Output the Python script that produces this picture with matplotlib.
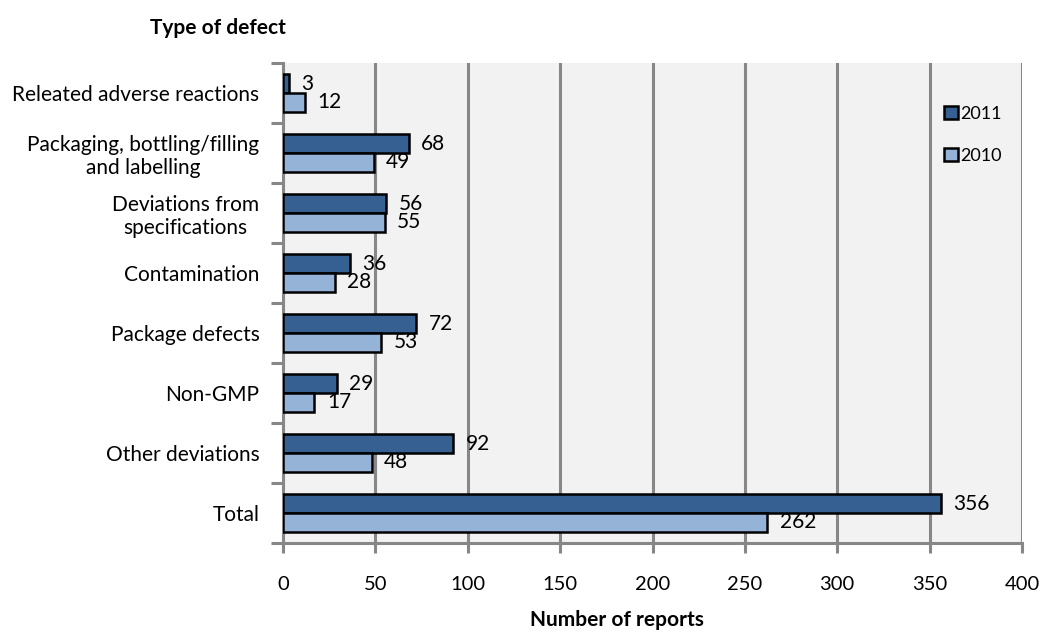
import matplotlib
matplotlib.use("Agg")
import matplotlib.pyplot as plt
import numpy as np

categories = [
    "Releated adverse reactions",
    "Packaging, bottling/filling\nand labelling",
    "Deviations from\nspecifications",
    "Contamination",
    "Package defects",
    "Non-GMP",
    "Other deviations",
    "Total",
]
reports_2011 = [3, 68, 56, 36, 72, 29, 92, 356]
reports_2010 = [12, 49, 55, 28, 53, 17, 48, 262]
x_ticks = [0, 50, 100, 150, 200, 250, 300, 350, 400]

plt.rcParams["font.family"] = ["Lato", "DejaVu Sans"]

fig = plt.figure(figsize=(10.42, 6.32), dpi=100)
ax = fig.add_axes([283 / 1042, 1 - 543 / 632, (1022 - 283) / 1042, (543 - 63) / 632])
ax.set_facecolor("#f2f2f2")

n = len(categories)
centers = np.arange(n) + 0.5
bar_h = 0.31
grey = "#878787"

b11 = ax.barh(centers - bar_h / 2, reports_2011, height=bar_h, color="#366092",
              edgecolor="black", linewidth=1.8, label="2011", zorder=3)
b10 = ax.barh(centers + bar_h / 2, reports_2010, height=bar_h, color="#95b3d7",
              edgecolor="black", linewidth=1.8, label="2010", zorder=3)

for bars, vals in ((b11, reports_2011), (b10, reports_2010)):
    for rect, v in zip(bars, vals):
        ax.annotate(str(v), xy=(v, rect.get_y() + rect.get_height() / 2),
                    xytext=(9, 0), textcoords="offset points",
                    va="center", ha="left", fontsize=15, color="black", zorder=4)

ax.set_xlim(0, 400)
ax.set_ylim(n, 0)
ax.set_xticks(x_ticks)
ax.set_xticklabels([str(t) for t in x_ticks], fontsize=14.5)
ax.tick_params(axis="x", length=7, width=2.2, color=grey, pad=17)

ax.set_yticks(np.arange(n + 1))
ax.set_yticklabels([])
ax.set_yticks(centers, minor=True)
ax.set_yticklabels(categories, minor=True, fontsize=15, multialignment="center")
ax.tick_params(axis="y", which="major", length=9, width=2.2, color=grey)
ax.tick_params(axis="y", which="minor", length=0, pad=17)

ax.grid(axis="x", color=grey, linewidth=2.2, zorder=1)
ax.set_axisbelow(True)
for side in ("top", "right"):
    ax.spines[side].set_visible(False)
for side in ("left", "bottom"):
    ax.spines[side].set_color(grey)
    ax.spines[side].set_linewidth(2.2)

leg = ax.legend(handles=[b11, b10], loc="upper left", bbox_to_anchor=(0.885, 0.926),
                frameon=False, fontsize=13, handlelength=0.75, handleheight=0.75,
                handletextpad=0.15, labelspacing=1.45, borderaxespad=0)

fig.text(218 / 1042, 1 - 18 / 632, "Type of defect", ha="center", va="top",
         fontsize=15, fontweight="bold")
fig.text(617 / 1042, 1 - 630 / 632, "Number of reports", ha="center", va="bottom",
         fontsize=15, fontweight="bold")

fig.savefig("out.png", dpi=100, facecolor="white")
